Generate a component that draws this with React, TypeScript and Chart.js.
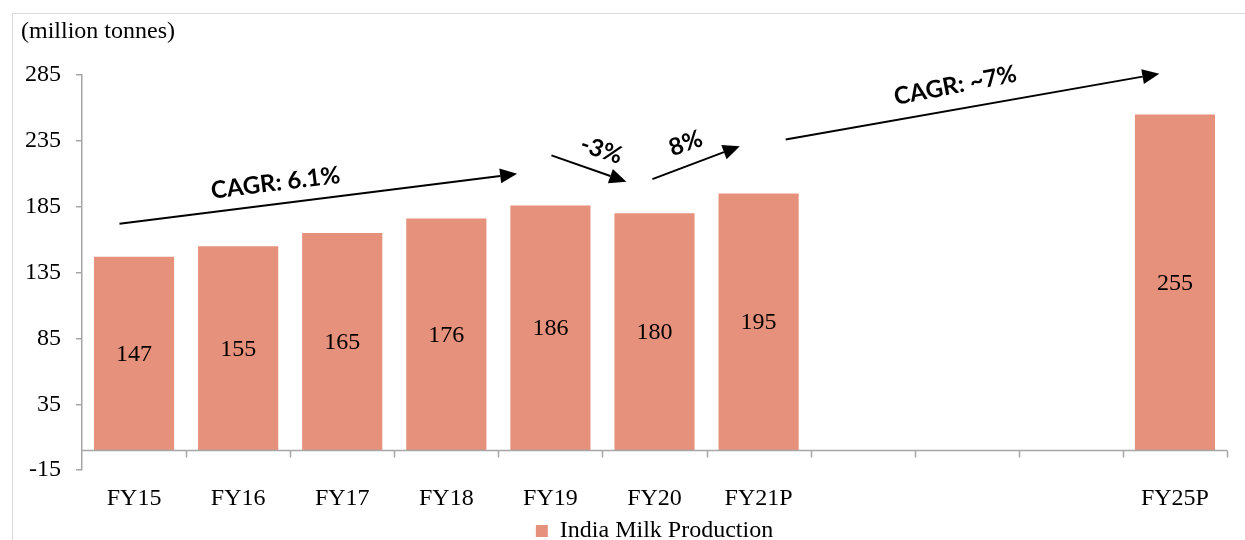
import { useEffect, useRef } from "react";
import { Chart, registerables } from "chart.js";

Chart.register(...registerables);

const categories = ["FY15", "FY16", "FY17", "FY18", "FY19", "FY20", "FY21P", "", "", "", "FY25P"];
const production: (number | null)[] = [147, 155, 165, 176, 186, 180, 195, null, null, null, 255];
const seriesLabel = "India Milk Production";
const unitLabel = "(million tonnes)";
const yMin = -15;
const yMax = 285;
const yStep = 50;

// growth annotations (category index / value coordinates)
const arrowLabels = ["CAGR: 6.1%", "-3%", "8%", "CAGR: ~7%"];
const arrowStartX = [-0.14, 4.01, 4.98, 6.26];
const arrowStartY = [172, 224, 206, 236];
const arrowEndX = [3.68, 4.73, 5.82, 9.85];
const arrowEndY = [210, 204, 231, 286];
const labelX = [1.36, 4.49, 5.3, 7.89];
const labelY = [203, 228, 233, 277];
const labelAngle = [-7, 18, -20, -11];

const SERIF = '"Liberation Serif", "Times New Roman", serif';
const AXIS = "#a6a6a6";
const BAR = "#E6917B";

const overlay = {
  id: "overlay",
  afterDatasetsDraw(chart: any) {
    const { ctx, chartArea, scales } = chart;
    const x = scales.x;
    const y = scales.y;
    const x0 = x.getPixelForValue(0);
    const cw = x.getPixelForValue(1) - x0;
    const px = (i: number) => x0 + cw * i;
    const py = (v: number) => y.getPixelForValue(v);
    ctx.save();

    // category axis at zero with boundary ticks
    const y0 = Math.round(py(0)) + 0.5;
    ctx.strokeStyle = AXIS;
    ctx.lineWidth = 1.5;
    ctx.beginPath();
    ctx.moveTo(chartArea.left, y0);
    ctx.lineTo(chartArea.right, y0);
    const n = categories.length;
    for (let k = 1; k <= n; k++) {
      const xx = Math.round(chartArea.left + (k * (chartArea.right - chartArea.left)) / n) + 0.5;
      ctx.moveTo(xx, y0);
      ctx.lineTo(xx, y0 + 7);
    }
    ctx.stroke();

    // value labels
    const meta = chart.getDatasetMeta(0);
    ctx.fillStyle = "#000";
    ctx.font = `24px ${SERIF}`;
    ctx.textAlign = "center";
    ctx.textBaseline = "middle";
    meta.data.forEach((bar: any, i: number) => {
      const v = production[i];
      if (v == null) return;
      const p = bar.getProps(["x", "y", "base"], true);
      ctx.fillText(String(v), p.x, (p.y + p.base) / 2 + 1);
    });

    // arrows
    ctx.strokeStyle = "#000";
    ctx.fillStyle = "#000";
    ctx.lineWidth = 2;
    for (let a = 0; a < arrowLabels.length; a++) {
      const sx = px(arrowStartX[a]);
      const sy = py(arrowStartY[a]);
      const ex = px(arrowEndX[a]);
      const ey = py(arrowEndY[a]);
      const ang = Math.atan2(ey - sy, ex - sx);
      const hl = 17;
      const hw = 7.5;
      const bx = ex - hl * Math.cos(ang);
      const by = ey - hl * Math.sin(ang);
      ctx.beginPath();
      ctx.moveTo(sx, sy);
      ctx.lineTo(bx, by);
      ctx.stroke();
      ctx.beginPath();
      ctx.moveTo(ex, ey);
      ctx.lineTo(bx + hw * Math.sin(ang), by - hw * Math.cos(ang));
      ctx.lineTo(bx - hw * Math.sin(ang), by + hw * Math.cos(ang));
      ctx.closePath();
      ctx.fill();

      ctx.save();
      ctx.translate(px(labelX[a]), py(labelY[a]));
      ctx.rotate((labelAngle[a] * Math.PI) / 180);
      ctx.font = 'bold 24px Lato, "Open Sans", sans-serif';
      ctx.textAlign = "center";
      ctx.textBaseline = "middle";
      ctx.fillText(arrowLabels[a], 0, 0);
      ctx.restore();
    }

    // unit label
    ctx.font = `24px ${SERIF}`;
    ctx.textAlign = "left";
    ctx.textBaseline = "middle";
    ctx.fillText(unitLabel, 21, 32);
    ctx.restore();
  },
};

export default function App() {
  const ref = useRef<HTMLCanvasElement | null>(null);
  useEffect(() => {
    if (!ref.current) return;
    const chart = new Chart(ref.current, {
      type: "bar",
      data: {
        labels: categories,
        datasets: [
          {
            label: seriesLabel,
            data: production,
            backgroundColor: BAR,
            borderWidth: 0,
            barPercentage: 0.77,
            categoryPercentage: 1,
          },
        ],
      },
      options: {
        responsive: false,
        animation: false,
        devicePixelRatio: 1,
        layout: { padding: { left: 10, right: 18, top: 75, bottom: 4 } },
        plugins: {
          tooltip: { enabled: false },
          legend: {
            position: "bottom",
            fullSize: false,
            labels: {
              boxWidth: 12,
              boxHeight: 12,
              padding: 0,
              color: "#000",
              font: { family: SERIF, size: 24 },
            },
          },
        },
        scales: {
          x: {
            grid: { display: false, drawTicks: false },
            border: { display: false },
            ticks: {
              color: "#000",
              font: { family: SERIF, size: 24 },
              padding: 14,
              autoSkip: false,
              maxRotation: 0,
            },
            afterFit: (scale: any) => {
              scale.height = scale.height - 8;
            },
          },
          y: {
            min: yMin,
            max: yMax,
            ticks: {
              stepSize: yStep,
              color: "#000",
              font: { family: SERIF, size: 24 },
              padding: 15,
            },
            grid: { drawOnChartArea: false, tickLength: 6, color: AXIS, lineWidth: 1.5 },
            border: { display: true, color: AXIS, width: 1.5 },
          },
        },
      },
      plugins: [overlay],
    });
    return () => chart.destroy();
  }, []);

  return (
    <div
      style={{
        position: "fixed",
        left: 0,
        top: 0,
        width: 1245,
        height: 540,
        overflow: "hidden",
        background: "#fff",
      }}
    >
      <div
        style={{
          position: "absolute",
          left: 12,
          top: 13,
          width: 1260,
          height: 600,
          border: "1px solid #d9d9d9",
          boxSizing: "border-box",
        }}
      />
      <canvas
        ref={ref}
        width={1245}
        height={557}
        style={{ position: "absolute", left: 0, top: 0, width: 1245, height: 557 }}
      />
    </div>
  );
}
